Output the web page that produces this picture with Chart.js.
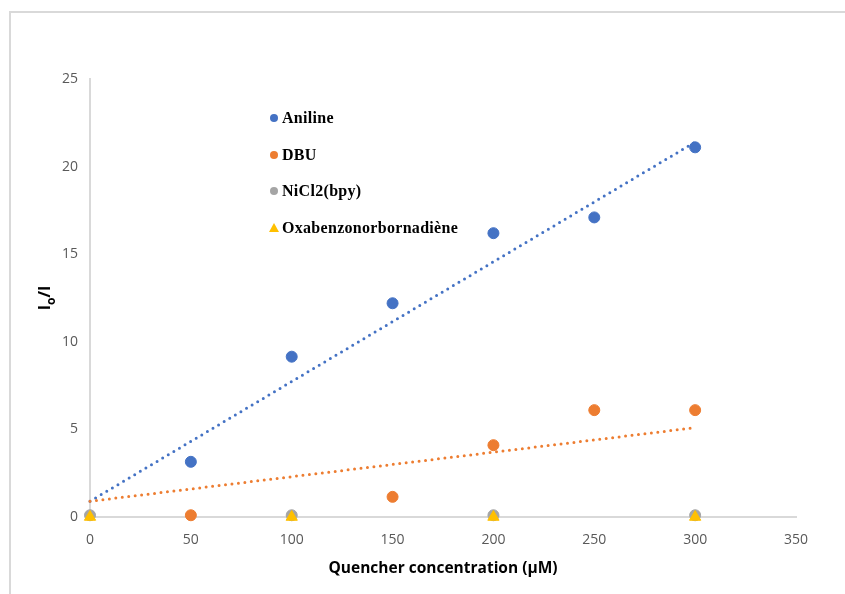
<!DOCTYPE html>
<html>
<head>
<meta charset="utf-8">
<script src="https://cdn.jsdelivr.net/npm/chart.js@4.4.1/dist/chart.umd.min.js"></script>
<style>
html,body{margin:0;padding:0;background:#fff;}
#wrap{position:relative;width:845px;height:594px;}
#frame{position:absolute;left:9px;top:11px;width:845px;height:600px;border-left:2px solid #d9d9d9;border-top:2px solid #d9d9d9;box-sizing:border-box;}
canvas{position:absolute;left:0;top:0;}
</style>
</head>
<body>
<div id="wrap"><div id="frame"></div><canvas id="c" width="845" height="594"></canvas></div>
<script>
// ---- data ----
const seriesNames = ["Aniline", "DBU", "NiCl2(bpy)", "Oxabenzonorbornadiène"];
const anilineX = [50, 100, 150, 200, 250, 300];
const anilineY = [3.15, 9.15, 12.2, 16.2, 17.1, 21.1];
const dbuX = [50, 150, 200, 250, 300];
const dbuY = [0.1, 1.15, 4.1, 6.1, 6.1];
const nickelX = [0, 100, 200, 300];
const nickelY = [0.1, 0.1, 0.1, 0.1];
const oxaX = [0, 100, 200, 300];
const oxaY = [0, 0, 0, 0];
// trendline endpoints
const anilineTrendX = [0, 300];
const anilineTrendY = [0.9, 21.4];
const dbuTrendX = [0, 300];
const dbuTrendY = [0.9, 5.1];
const xTicks = [0, 50, 100, 150, 200, 250, 300, 350];
const yTicks = [0, 5, 10, 15, 20, 25];
const xTitle = "Quencher concentration (\u00b5M)";

const colors = ["#4472C4", "#ED7D31", "#A5A5A5", "#FFC000"];
const pts = (xs, ys) => xs.map((x, i) => ({x: x, y: ys[i]}));

const legendPlugin = {
  id: 'customDecor',
  afterDraw(chart) {
    const ctx = chart.ctx;
    ctx.save();
    // legend inside plot
    const rows = [118, 155, 191, 228];
    const styles = ['circle', 'circle', 'circle', 'triangle'];
    ctx.font = 'bold 16px "Liberation Serif", "Times New Roman", serif';
    try { ctx.letterSpacing = '0.3px'; } catch (e) {}
    ctx.textBaseline = 'middle';
    ctx.textAlign = 'left';
    seriesNames.forEach((name, i) => {
      const y = rows[i], x = 274;
      ctx.fillStyle = colors[i];
      ctx.beginPath();
      if (styles[i] === 'circle') {
        ctx.arc(x, y, 4, 0, Math.PI * 2);
      } else {
        ctx.moveTo(x, y - 5); ctx.lineTo(x + 5, y + 4); ctx.lineTo(x - 5, y + 4); ctx.closePath();
      }
      ctx.fill();
      ctx.fillStyle = '#000';
      ctx.fillText(name, 282, y + 1);
    });
    try { ctx.letterSpacing = '0px'; } catch (e) {}
    // y axis title with subscript
    ctx.translate(46, 298);
    ctx.rotate(-Math.PI / 2);
    ctx.fillStyle = '#000';
    ctx.textBaseline = 'alphabetic';
    const big = 'bold 16px "Open Sans", "Liberation Sans", sans-serif';
    const small = 'bold 12px "Open Sans", "Liberation Sans", sans-serif';
    ctx.font = big; const w1 = ctx.measureText('I').width;
    ctx.font = small; const w2 = ctx.measureText('o').width;
    ctx.font = big; const w3 = ctx.measureText('/I').width;
    let sx = -(w1 + w2 + w3) / 2;
    ctx.font = big; ctx.fillText('I', sx, 4); sx += w1;
    ctx.font = small; ctx.fillText('o', sx, 9); sx += w2;
    ctx.font = big; ctx.fillText('/I', sx, 4);
    ctx.restore();
  }
};

new Chart(document.getElementById('c'), {
  type: 'scatter',
  data: {
    datasets: [
      {label: seriesNames[0] + ' trend', type: 'line', order: 6, data: pts(anilineTrendX, anilineTrendY), borderColor: colors[0], borderWidth: 3, borderDash: [0, 6.5], borderCapStyle: 'round', pointRadius: 0, fill: false, clip: false},
      {label: seriesNames[1] + ' trend', type: 'line', order: 5, data: pts(dbuTrendX, dbuTrendY), borderColor: colors[1], borderWidth: 3, borderDash: [0, 6.5], borderCapStyle: 'round', pointRadius: 0, fill: false, clip: false},
      {label: seriesNames[0], order: 4, data: pts(anilineX, anilineY), backgroundColor: colors[0], borderColor: colors[0], pointRadius: 5.5, clip: false},
      {label: seriesNames[1], order: 3, data: pts(dbuX, dbuY), backgroundColor: colors[1], borderColor: colors[1], pointRadius: 5.5, clip: false},
      {label: seriesNames[2], order: 2, data: pts(nickelX, nickelY), backgroundColor: colors[2], borderColor: colors[2], pointRadius: 5.5, clip: false},
      {label: seriesNames[3], order: 1, data: pts(oxaX, oxaY), backgroundColor: colors[3], borderColor: colors[3], pointStyle: 'triangle', pointRadius: 6.5, clip: false}
    ]
  },
  options: {
    responsive: false,
    animation: false,
    layout: {padding: {left: 0, right: 49, top: 79, bottom: 0}},
    plugins: {legend: {display: false}, tooltip: {enabled: false}},
    scales: {
      x: {
        type: 'linear', min: 0, max: 350,
        afterFit(s) { s.height = 77; },
        afterBuildTicks(s) { s.ticks = xTicks.map(v => ({value: v})); },
        grid: {display: false, drawTicks: false},
        border: {display: true, color: '#d9d9d9', width: 2},
        ticks: {padding: 15, color: '#595959', font: {family: '"Open Sans", "Liberation Sans", sans-serif', size: 14}},
        title: {display: true, text: xTitle, color: '#000', padding: {bottom: 16.5}, font: {family: '"Open Sans", "Liberation Sans", sans-serif', size: 15.5, weight: 'bold'}}
      },
      y: {
        type: 'linear', min: 0, max: 25,
        afterFit(s) { s.width = 90; },
        afterBuildTicks(s) { s.ticks = yTicks.map(v => ({value: v})); },
        grid: {display: false, drawTicks: false},
        border: {display: true, color: '#d9d9d9', width: 2},
        ticks: {padding: 12, color: '#595959', font: {family: '"Open Sans", "Liberation Sans", sans-serif', size: 14}}
      }
    }
  },
  plugins: [legendPlugin]
});
</script>
</body>
</html>
